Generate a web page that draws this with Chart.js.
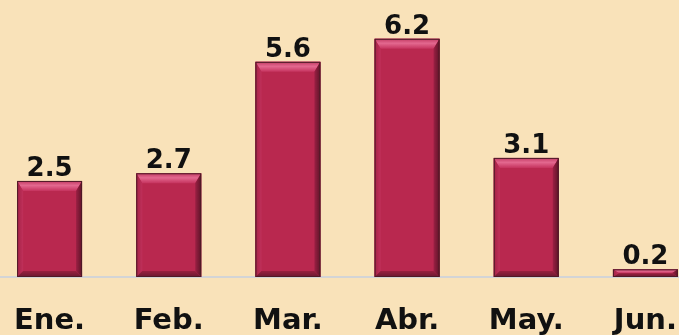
<!DOCTYPE html>
<html>
<head>
<meta charset="utf-8">
<script src="https://cdn.jsdelivr.net/npm/chart.js@4.4.1/dist/chart.umd.min.js"></script>
<style>
  html, body { margin: 0; padding: 0; background: #f9e2b9; overflow: hidden; }
  #wrap { position: relative; width: 679px; height: 335px; overflow: hidden; }
  #box { position: absolute; left: -13px; top: 0; width: 718px; height: 335px; }
</style>
</head>
<body>
<div id="wrap"><div id="box"><canvas id="c" width="718" height="335"></canvas></div></div>
<script>
// Monthly values
const months = ['Ene.', 'Feb.', 'Mar.', 'Abr.', 'May.', 'Jun.'];
const values = [2.5, 2.7, 5.6, 6.2, 3.1, 0.2];

const FONT = '"DejaVu Sans", "Open Sans", sans-serif';

// Bevelled face for each bar, plus value label above it
const bevelPlugin = {
  id: 'bevel',
  afterDatasetsDraw(chart) {
    const ctx = chart.ctx;
    const meta = chart.getDatasetMeta(0);
    meta.data.forEach((bar, i) => {
      const l = bar.x - bar.width / 2, r = bar.x + bar.width / 2;
      const t = bar.y, b = bar.base;
      const h = b - t;
      const bt = Math.min(10, h / 2), bb = Math.min(6, h / 2), bs = Math.min(6, bar.width / 4);
      ctx.save();
      // base face
      ctx.fillStyle = '#b9284f';
      ctx.fillRect(l, t, r - l, h);
      // top bevel
      let g = ctx.createLinearGradient(0, t, 0, t + bt);
      g.addColorStop(0, '#c23a63');
      g.addColorStop(0.45, '#e3688f');
      g.addColorStop(1, '#c5335e');
      ctx.fillStyle = g;
      ctx.beginPath();
      ctx.moveTo(l, t); ctx.lineTo(r, t); ctx.lineTo(r - bs, t + bt); ctx.lineTo(l + bs, t + bt); ctx.closePath();
      ctx.fill();
      // left bevel
      g = ctx.createLinearGradient(l, 0, l + bs, 0);
      g.addColorStop(0, '#a32246');
      g.addColorStop(1, '#c0305a');
      ctx.fillStyle = g;
      ctx.beginPath();
      ctx.moveTo(l, t); ctx.lineTo(l + bs, t + bt); ctx.lineTo(l + bs, b - bb); ctx.lineTo(l, b); ctx.closePath();
      ctx.fill();
      // right bevel
      g = ctx.createLinearGradient(r - bs, 0, r, 0);
      g.addColorStop(0, '#9c2044');
      g.addColorStop(1, '#5e1428');
      ctx.fillStyle = g;
      ctx.beginPath();
      ctx.moveTo(r, t); ctx.lineTo(r - bs, t + bt); ctx.lineTo(r - bs, b - bb); ctx.lineTo(r, b); ctx.closePath();
      ctx.fill();
      // bottom bevel
      g = ctx.createLinearGradient(0, b - bb, 0, b);
      g.addColorStop(0, '#98203f');
      g.addColorStop(1, '#6a1830');
      ctx.fillStyle = g;
      ctx.beginPath();
      ctx.moveTo(l, b); ctx.lineTo(l + bs, b - bb); ctx.lineTo(r - bs, b - bb); ctx.lineTo(r, b); ctx.closePath();
      ctx.fill();
      // outline
      ctx.strokeStyle = '#4e1a27';
      ctx.lineWidth = 1;
      ctx.strokeRect(l + 0.5, t + 0.5, r - l - 1, h - 1);
      // value label
      ctx.fillStyle = '#111111';
      ctx.font = 'bold 26px ' + FONT;
      ctx.textAlign = 'center';
      ctx.textBaseline = 'alphabetic';
      ctx.fillText(values[i].toFixed(1), bar.x, t - 5);
      ctx.restore();
    });
  }
};

new Chart(document.getElementById('c'), {
  type: 'bar',
  data: {
    labels: months,
    datasets: [{
      data: values,
      backgroundColor: '#b9284f',
      borderWidth: 0,
      categoryPercentage: 1,
      barPercentage: 0.545
    }]
  },
  options: {
    responsive: false,
    animation: false,
    layout: { padding: 0 },
    plugins: { legend: { display: false }, tooltip: { enabled: false } },
    scales: {
      x: {
        grid: { display: false, drawTicks: false },
        border: { display: true, color: '#d3d4d6', width: 2 },
        ticks: {
          color: '#111111',
          padding: 27,
          font: { family: FONT, size: 29, weight: 'bold', lineHeight: 1.2 }
        },
        afterFit(scale) { scale.height = 58; }
      },
      y: {
        display: false,
        min: 0,
        max: 7.21
      }
    }
  },
  plugins: [bevelPlugin]
});
</script>
</body>
</html>
